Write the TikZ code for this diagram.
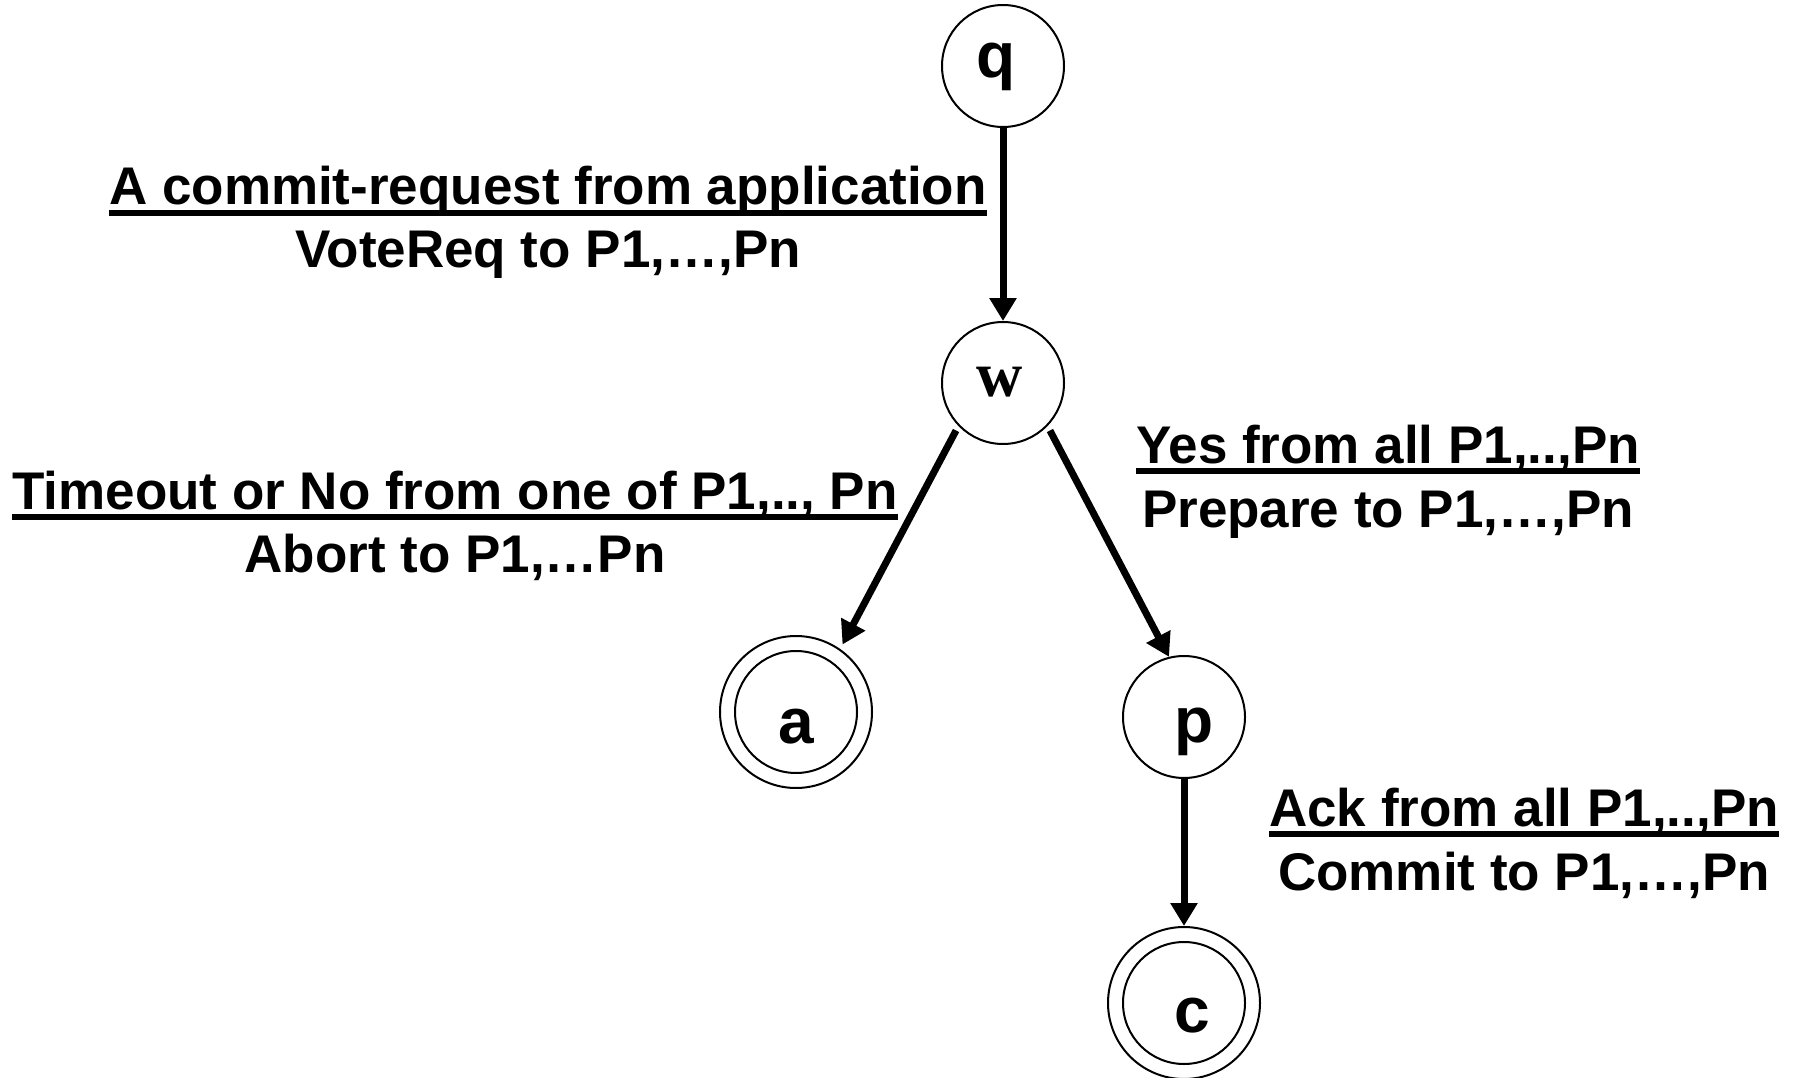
\documentclass[tikz,border=0pt]{standalone}
\usepackage{fontspec}
\setmainfont{Liberation Sans}
\newfontfamily\wfont{Liberation Serif}
\usetikzlibrary{arrows.meta}

\tikzset{
  state/.style={circle, draw, line width=2pt, minimum size=122pt, inner sep=0pt,
    font=\fontsize{64}{64}\selectfont\bfseries},
  final/.style={state, minimum size=152pt},
  arr/.style={-{Triangle[width=26pt,length=23pt]}, line width=7pt},
  lbl/.style={anchor=base, inner sep=0pt, font=\fontsize{53}{64}\selectfont\bfseries},
  uline/.style={line width=5.5pt},
}

\begin{document}
\begin{tikzpicture}[x=1pt,y=-1pt]
\useasboundingbox (0,0) rectangle (1797,1078);

% states of the coordinator
\node[state, text height=24pt, text depth=0pt] (q) at (1003,66) {q\hspace*{14pt}};
\node[state, text height=26pt, text depth=0pt, font=\fontsize{64}{64}\wfont\bfseries] (w) at (1003,383) {w\hspace*{6pt}};
\node[final, text height=62pt, text depth=0pt] (a) at (796,712) {a};
\draw[line width=2pt] (a.center) circle[radius=61];
\node[state, text height=50pt, text depth=0pt] (p) at (1184,717) {\hspace*{20pt}p};
\node[final, text height=58pt, text depth=0pt] (c) at (1184,1003) {\hspace*{16pt}c};
\draw[line width=2pt] (c.center) circle[radius=61];

% transitions
\draw[arr] (q.south) -- (w.north);
\draw[arr, shorten <=5pt, shorten >=5pt] (w.224) -- (a.55);
\draw[arr, shorten <=5pt] (w.316) -- (p.104);
\draw[arr] (p.south) -- (c.north);

% transition labels: trigger (underlined) over action
\node[lbl] (t1) at (548,205) {A commit-request from application};
\node[lbl] (t1b) at (548,268) {VoteReq to P1,…,Pn};
\draw[uline] ([yshift=-8pt]t1.base west) -- ([yshift=-8pt]t1.base east);

\node[lbl] (t2) at (455,509) {Timeout or No from one of P1,.., Pn};
\node[lbl] (t2b) at (455,572) {Abort to P1,…Pn};
\draw[uline] ([yshift=-8pt]t2.base west) -- ([yshift=-8pt]t2.base east);

\node[lbl] (t3) at (1388,463) {Yes from all P1,..,Pn};
\node[lbl] (t3b) at (1388,527) {Prepare to P1,…,Pn};
\draw[uline] ([yshift=-8pt]t3.base west) -- ([yshift=-8pt]t3.base east);

\node[lbl] (t4) at (1524,826) {Ack from all P1,..,Pn};
\node[lbl] (t4b) at (1524,890) {Commit to P1,…,Pn};
\draw[uline] ([yshift=-8pt]t4.base west) -- ([yshift=-8pt]t4.base east);
\end{tikzpicture}
\end{document}
